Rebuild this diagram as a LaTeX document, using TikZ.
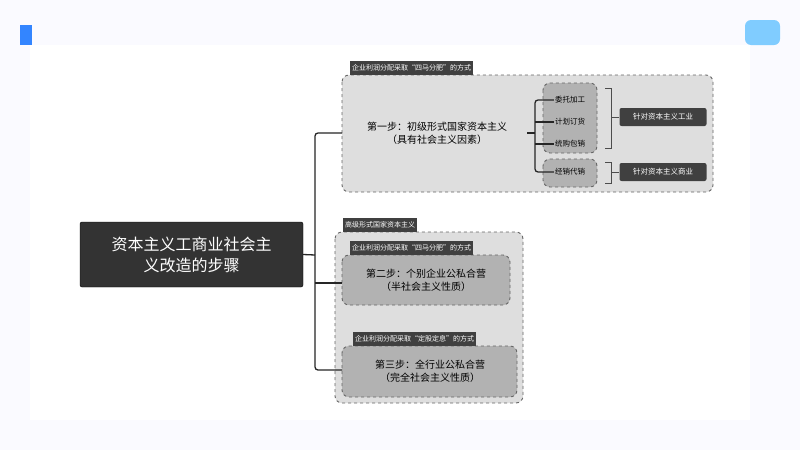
\documentclass[tikz,border=0pt]{standalone}
\usepackage{fontspec}
\setmainfont{Noto Sans CJK SC}
\begin{document}
\begin{tikzpicture}[x=1pt,y=-1pt,
  tab/.style={fill=black!75,text=white,font=\fontsize{7}{8}\selectfont,inner sep=2pt,anchor=south west,minimum height=14pt},
  grp/.style={draw=black!60,dashed,line width=0.9pt,rounded corners=7pt,fill=black!13},
  inner/.style={draw=black!60,dashed,line width=0.9pt,rounded corners=7pt,fill=black!30},
  lbl/.style={fill=black!75,text=white,font=\fontsize{7.5}{9}\selectfont,rounded corners=2pt,minimum width=87pt,minimum height=18pt},
  item/.style={font=\fontsize{7.5}{9}\selectfont,inner sep=1pt},
  conn/.style={line width=1.3pt,black!85}]
\useasboundingbox (0,0) rectangle (800,450);
\fill[blue!2] (0,0) rectangle (800,450);
\fill[white] (30,45) rectangle (750,420);
\fill[blue!60!cyan!80] (20,25) rectangle (32,45);
\fill[blue!40!cyan!50,rounded corners=6pt] (745,20) rectangle (780,45);
% main
\node[fill=black!80,draw=black,text=white,font=\fontsize{16}{21}\selectfont,align=center,minimum width=223pt,minimum height=65pt,rounded corners=2pt] (main) at (191.5,254.5) {资本主义工商业社会主\\义改造的步骤};
% group 1
\draw[grp] (342,75) rectangle (713,192);
\node[tab] (t1) at (350,75) {企业利润分配采取“四马分肥”的方式};
\node[font=\fontsize{10}{13}\selectfont,align=center] (s1) at (437,133) {第一步：初级形式国家资本主义\\（具有社会主义因素）};
\draw[inner] (543,83) rectangle (597,153);
\draw[inner] (543,159) rectangle (597,187);
\node[item] (i1) at (570,100) {委托加工};
\node[item] (i2) at (570,122) {计划订货};
\node[item] (i3) at (570,144) {统购包销};
\node[item] (i4) at (570,172) {经销代销};
\coordinate (j1) at (535,133);
\draw[conn] (527,133) -- (j1);
\draw[conn,rounded corners=3pt] (i1.west) -| (535,172) -- (i4.west);
\draw[conn] (535,122) -- (i2.west) (535,144) -- (i3.west);
\node[lbl] (l1) at (663,117) {针对资本主义工业};
\node[lbl] (l2) at (663,172) {针对资本主义商业};
\draw[black!70,line width=0.9pt] (605,88) -- (611,88) -- (611,148) -- (605,148) (611,117) -- (l1.west);
\draw[black!70,line width=0.9pt] (605,162) -- (611,162) -- (611,183) -- (605,183) (611,172) -- (l2.west);
% group 2
\draw[grp] (335,232) rectangle (523,403);
\node[tab] (t2) at (343,232) {高级形式国家资本主义};
\draw[inner] (342,255) rectangle (510,305);
\node[tab] (t3) at (350,255) {企业利润分配采取“四马分肥”的方式};
\node[font=\fontsize{10}{13}\selectfont,align=center] (s2) at (426,280) {第二步：个别企业公私合营\\（半社会主义性质）};
\draw[inner] (342,346) rectangle (517,397);
\node[tab] (t4) at (353,346) {企业利润分配采取“定股定息”的方式};
\node[font=\fontsize{10}{13}\selectfont,align=center] (s3) at (430,371) {第三步：全行业公私合营\\（完全社会主义性质）};
% trunk
\coordinate (tr) at (315,255);
\draw[conn] (main.east) -- (tr);
\draw[conn,rounded corners=3pt] (342,133) -| (315,370) -- (342,370);
\draw[conn] (315,283) -- (342,283);
\end{tikzpicture}
\end{document}
